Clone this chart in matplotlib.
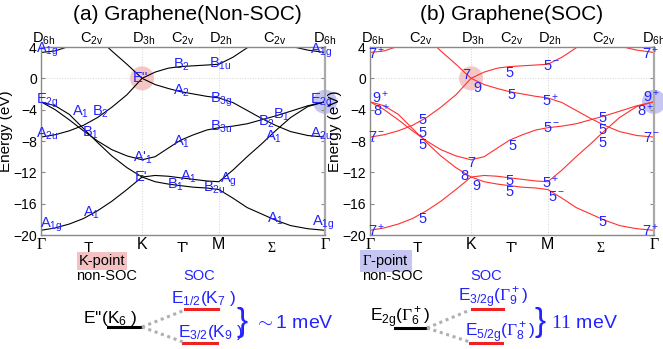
import numpy as np
import matplotlib
matplotlib.use("Agg")
import matplotlib.pyplot as plt
from matplotlib.lines import Line2D

plt.rcParams['font.family'] = ['Liberation Sans', 'DejaVu Sans']
plt.rcParams['mathtext.fontset'] = 'custom'
plt.rcParams['mathtext.rm'] = 'Liberation Sans'
plt.rcParams['mathtext.it'] = 'Liberation Sans:italic'
plt.rcParams['mathtext.sf'] = 'Liberation Serif'
plt.rcParams['mathtext.default'] = 'rm'

# path Gamma - K - M - Gamma
k_sym = [0.0, 1.0, 1.76, 2.81]
k_mid = [0.465, 1.40, 2.28]
sym_names = [r"$\mathsf{\Gamma}$", "K", "M", r"$\mathsf{\Gamma}$"]
mid_names = ["T", "T'", r"$\mathsf{\Sigma}$"]
top_k = [0.03, 0.50, 1.02, 1.40, 1.78, 2.31, 2.81]
top_names = [r"D$_{6h}$", r"C$_{2v}$", r"D$_{3h}$", r"C$_{2v}$", r"D$_{2h}$", r"C$_{2v}$", r"D$_{6h}$"]

# band energies (eV) read on a common k grid
k = [0.0, 0.14, 0.28, 0.42, 0.56, 0.70, 0.85, 1.0, 1.13, 1.26, 1.38,
     1.51, 1.64, 1.76, 1.90, 2.04, 2.18, 2.32, 2.47, 2.64, 2.81]
band1 = [-19.4, -19.1, -18.6, -17.9, -16.9, -15.7, -14.2, -12.6, -13.2, -13.5, -13.7,
         -13.9, -14.0, -14.2, -15.3, -16.5, -17.3, -18.1, -18.8, -19.2, -19.4]
band2 = [-3.0, -3.5, -4.6, -6.4, -8.2, -9.9, -11.4, -12.6, -12.4, -12.5, -12.7,
         -12.9, -13.1, -13.2, -11.7, -10.0, -8.4, -6.7, -5.0, -3.6, -3.0]
band3 = [-3.0, -4.0, -5.3, -6.7, -8.0, -9.1, -9.9, -10.4, -10.0, -8.9, -7.9,
         -7.2, -6.6, -6.3, -6.1, -5.8, -5.3, -4.8, -4.2, -3.5, -3.0]
pi_v = [-7.5, -7.2, -6.7, -6.0, -5.0, -3.7, -2.1, 0.0, -0.8, -1.3, -1.7,
        -2.0, -2.3, -2.5, -3.1, -4.1, -5.1, -6.0, -6.8, -7.3, -7.5]
pi_c_k = k[3:17]
pi_c = [6.9, 5.2, 3.5, 1.8, 0.0, 0.8, 1.3, 1.5, 1.6, 1.7, 1.8, 2.7, 3.9, 5.2]
top_l_k = k[0:4]
top_l = [3.3, 3.5, 4.1, 4.9]
top_r_k = k[17:]
top_r = [4.8, 4.1, 3.6, 3.3]

# irreducible representation labels (k, E)
labels_a = [
    (r"A$_{1g}$", -0.05, 3.6), (r"E$_{2g}$", -0.05, -2.9), (r"A$_1$", 0.307, -4.3),
    (r"B$_2$", 0.505, -4.3), (r"A$_{2u}$", -0.05, -7.1), (r"B$_1$", 0.406, -6.9),
    (r"A$'_1$", 0.911, -10.1), (r"E'", 0.93, -12.6), (r"A$_1$", 1.307, -8.1),
    (r"B$_{3u}$", 1.673, -6.2), (r"A$_1$", 1.376, -12.6), (r"B$_1$", 1.248, -13.6),
    (r"A$_g$", 1.772, -13.0), (r"B$_{2u}$", 1.604, -14.0), (r"A$_1$", 0.416, -17.2),
    (r"A$_{1g}$", -0.01, -18.7), (r"B$_2$", 2.149, -5.6), (r"B$_1$", 2.297, -4.6),
    (r"A$_1$", 2.218, -7.4), (r"A$_{2u}$", 2.663, -7.1), (r"A$_1$", 2.238, -17.9),
    (r"A$_{1g}$", 2.683, -18.5), (r"A$_{1g}$", 2.663, 3.5), (r"E$_{2g}$", 2.663, -2.9),
    (r"E''", 0.911, 0.0), (r"B$_2$", 1.307, 1.7), (r"B$_{1u}$", 1.663, 1.9),
    (r"A$_2$", 1.307, -1.6), (r"B$_{3g}$", 1.673, -2.8),
]
labels_b = [
    (r"7$^+$", -0.02, 3.1), (r"9$^+$", 0.02, -2.4), (r"8$^+$", 0.03, -4.1),
    ("7", 0.911, 0.4), ("9", 1.02, -1.25), ("5", 1.337, 0.65), (r"5$^-$", 1.713, 1.55),
    ("5", 1.356, -2.15), (r"5$^+$", 1.703, -2.8), (r"9$^+$", 2.703, -2.3),
    (r"8$^+$", 2.644, -4.1), (r"7$^+$", 2.693, 3.1), ("5", 0.475, -5.3),
    ("5", 0.475, -7.0), ("5", 0.475, -8.5), (r"7$^-$", -0.02, -7.5),
    ("5", 1.366, -8.7), (r"5$^-$", 1.713, -6.4), ("7", 0.96, -10.8),
    ("8", 0.891, -12.5), ("9", 1.01, -13.8), ("5", 1.337, -13.1), ("5", 1.337, -14.5),
    (r"5$^+$", 1.703, -13.3), (r"5$^-$", 1.762, -15.2), ("5", 2.257, -5.0),
    ("5", 2.257, -6.6), ("5", 2.257, -8.3), (r"7$^-$", 2.703, -7.6),
    ("5", 0.475, -17.9), ("5", 2.257, -18.4), (r"7$^+$", -0.02, -19.4),
    (r"7$^+$", 2.693, -19.5),
]
# highlighted degenerate points
hl_k = [1.0, 2.81]
hl_e = [0.0, -3.0]
hl_col = ['#f4bcbc', '#bcbcf0']

W, H = 663, 349
fig = plt.figure(figsize=(W / 100, H / 100), dpi=100)

blue = '#2323ff'


def P(x, y):
    return x / W, 1 - y / H


def panel(left, labels, color, title, tx):
    ax = fig.add_axes([left / W, 1 - 235 / H, 284 / W, 188 / H])
    ax.set_xlim(k_sym[0], k_sym[-1])
    ax.set_ylim(-20, 4)
    for kk in k_sym[1:3]:
        ax.axvline(kk, color='#d2d2d2', lw=0.7, ls=':', zorder=0)
    ax.axhline(0, color='#d2d2d2', lw=0.7, ls=':', zorder=0)
    ax.scatter(hl_k, hl_e, s=300, c=hl_col, edgecolors='none', zorder=1, clip_on=False, alpha=0.85)
    for b in [band1, band2, band3, pi_v]:
        ax.plot(k, b, color=color, lw=0.8, zorder=2)
    ax.plot(pi_c_k, pi_c, color=color, lw=0.8, zorder=2)
    ax.plot(top_l_k, top_l, color=color, lw=0.8, zorder=2)
    ax.plot(top_r_k, top_r, color=color, lw=0.8, zorder=2)
    for t, x, y in labels:
        ax.text(x, y, t, color=blue, fontsize=10.5, ha='left', va='center', zorder=3, clip_on=False)
    ax.set_xticks([])
    ax.set_yticks([4, 0, -4, -8, -12, -16, -20])
    ax.tick_params(axis='y', direction='in', length=3, left=True, right=True,
                   labelsize=10, pad=3, color='#888888')
    for s in ax.spines.values():
        s.set_color('#8a8a8a')
        s.set_linewidth(1.0)
    ax.spines['right'].set_linewidth(1.6)
    ax.spines['right'].set_color('#aaaaaa')
    ax.set_ylabel("Energy (eV)", fontsize=11)
    ax.yaxis.set_label_coords(-0.1, 0.55)
    tr = ax.get_xaxis_transform()
    for kk, nm in zip(k_sym, sym_names):
        ax.text(kk, -0.01, nm, transform=tr, ha='center', va='top', fontsize=11.5)
    for kk, nm in zip(k_mid, mid_names):
        ax.text(kk, -0.03, nm, transform=tr, ha='center', va='top',
                fontsize=11 if 'Sigma' not in nm else 10)
    for kk, nm in zip(top_k, top_names):
        ax.text(kk, 1.022, nm, transform=tr, ha='center', va='baseline', fontsize=10.5)
    fig.text(*P(tx, 15), title, ha='center', va='center', fontsize=15)
    return ax


panel(41, labels_a, 'black', "(a) Graphene(Non-SOC)", 187)
panel(370, labels_b, '#ff3030', "(b) Graphene(SOC)", 512)

# level diagrams below the panels
fig.text(*P(102, 261), "K-point", ha='center', va='center', fontsize=10.5,
         bbox=dict(facecolor='#f4c2c2', edgecolor='none', pad=1.5))
fig.text(*P(106, 276), "non-SOC", ha='center', va='center', fontsize=10.5)
fig.text(*P(199, 276), "SOC", ha='center', va='center', fontsize=10.5, color=blue)
fig.text(*P(204, 298), r"E$_{1/2}$(K$_7$ )", ha='center', va='center', fontsize=12.5, color=blue)
fig.text(*P(110, 318), r"E''(K$_6$ )", ha='center', va='center', fontsize=12.5)
fig.text(*P(211, 333), r"E$_{3/2}$(K$_9$ )", ha='center', va='center', fontsize=12.5, color=blue)
fig.text(*P(242, 322), "}", ha='center', va='center', fontsize=24, color=blue)
fig.text(*P(254, 323), r"$\sim$1 meV", ha='left', va='center', fontsize=14, color=blue)

fig.text(*P(386, 261), r"$\mathsf{\Gamma}$-point", ha='center', va='center', fontsize=10.5,
         bbox=dict(facecolor='#c6c6f2', edgecolor='none', pad=1.5))
fig.text(*P(392, 276), "non-SOC", ha='center', va='center', fontsize=10.5)
fig.text(*P(486, 276), "SOC", ha='center', va='center', fontsize=10.5, color=blue)
fig.text(*P(493, 298), r"E$_{3/2g}$($\mathsf{\Gamma}^+_9$)", ha='center', va='center', fontsize=12.5, color=blue)
fig.text(*P(400, 318), r"E$_{2g}$($\mathsf{\Gamma}^+_6$)", ha='center', va='center', fontsize=12.5)
fig.text(*P(500, 333), r"E$_{5/2g}$($\mathsf{\Gamma}^+_8$)", ha='center', va='center', fontsize=12.5, color=blue)
fig.text(*P(540, 322), "}", ha='center', va='center', fontsize=24, color=blue)
fig.text(*P(551, 323), r"$\mathsf{11}$ meV", ha='left', va='center', fontsize=14, color=blue)

for (x1, x2, y, c) in [(185, 218, 309, '#ee2222'), (183, 217, 343, '#ee2222'), (108, 142, 327, 'black'),
                       (472, 503, 309, '#ee2222'), (470, 502, 343, '#ee2222'), (395, 427, 328, 'black')]:
    fig.add_artist(Line2D([x1 / W, x2 / W], [1 - y / H, 1 - y / H], color=c, lw=2.2,
                          transform=fig.transFigure))
for (x1, y1, x2, y2) in [(142, 327, 185, 310), (142, 327, 183, 342),
                         (427, 328, 470, 310), (427, 328, 470, 342)]:
    fig.add_artist(Line2D([x1 / W, x2 / W], [1 - y1 / H, 1 - y2 / H], color='#b0b0b0', lw=2.2,
                          ls=(0, (1, 1.2)), transform=fig.transFigure))

fig.savefig("out.png", dpi=100)
